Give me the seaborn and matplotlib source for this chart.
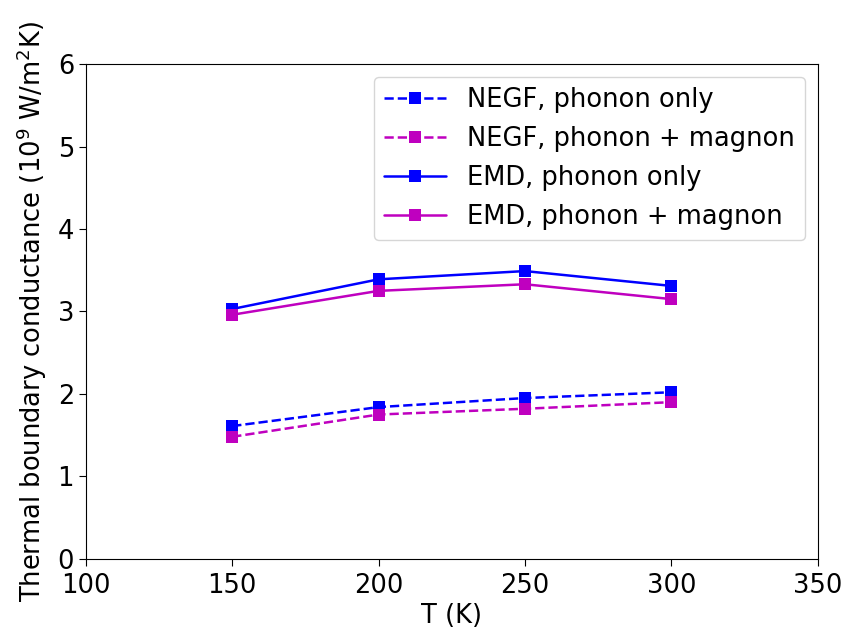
import numpy as np
import pandas as pd
import matplotlib
matplotlib.use("Agg")
import matplotlib.pyplot as plt
import seaborn as sns

temps = [150, 200, 250, 300]
negf_phonon = [1.61, 1.84, 1.95, 2.02]
negf_magnon = [1.48, 1.75, 1.82, 1.90]
emd_phonon = [3.03, 3.39, 3.49, 3.31]
emd_magnon = [2.96, 3.25, 3.33, 3.15]

labels = ['NEGF, phonon only', 'NEGF, phonon + magnon',
          'EMD, phonon only', 'EMD, phonon + magnon']
series = [negf_phonon, negf_magnon, emd_phonon, emd_magnon]
colors = ['#0000ff', '#bf00bf', '#0000ff', '#bf00bf']
styles = ['--', '--', '-', '-']

sns.set_style("ticks")
plt.rcParams['font.family'] = ['DejaVu Sans']
fs = 18.5
plt.rcParams['font.size'] = fs
plt.rcParams['text.color'] = 'black'
plt.rcParams['axes.labelcolor'] = 'black'
plt.rcParams['xtick.color'] = 'black'
plt.rcParams['ytick.color'] = 'black'

fig = plt.figure(figsize=(8.5, 6.35), dpi=100)
ax = fig.add_axes([0.101, 0.12, 0.861, 0.779])

for lab, vals, c, ls in zip(labels, series, colors, styles):
    df = pd.DataFrame({'T': temps, 'G': vals})
    sns.lineplot(data=df, x='T', y='G', ax=ax, color=c, linestyle=ls,
                 marker='s', markersize=8, markeredgewidth=0, linewidth=1.8,
                 label=lab)

ax.set_xlim(100, 350)
ax.set_ylim(0, 6)
ax.set_xticks([100, 150, 200, 250, 300, 350])
ax.set_yticks([0, 1, 2, 3, 4, 5, 6])
ax.tick_params(labelsize=fs, length=5, color='black')
ax.tick_params(axis='x', pad=5)
for sp in ax.spines.values():
    sp.set_color('black')
ax.set_xlabel('T (K)', fontsize=fs, labelpad=3)
ax.set_ylabel('Thermal boundary conductance (10$^9$ W/m$^2$K)', fontsize=fs, labelpad=6)
ax.legend(loc='upper right', fontsize=fs, frameon=True, handlelength=2.4)

fig.savefig('out.png', dpi=100)
